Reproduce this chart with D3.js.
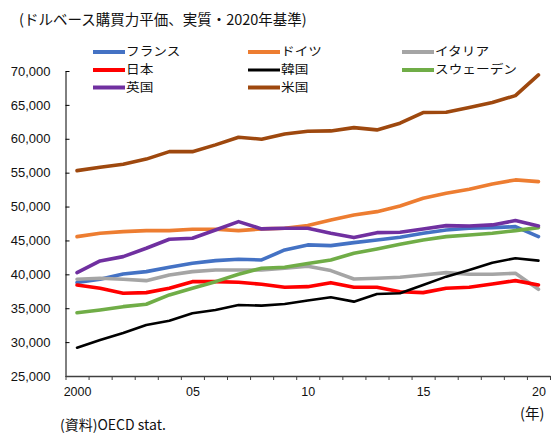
<!DOCTYPE html>
<html>
<head>
<meta charset="utf-8">
<script src="https://cdn.jsdelivr.net/npm/d3@7"></script>
<style>
  html, body { margin: 0; padding: 0; background: #fff; }
  svg { display: block; }
  text { font-family: "Liberation Sans", Arial, sans-serif; fill: #111; }
  .jp { font-family: "Noto Sans CJK JP", sans-serif; }
</style>
</head>
<body>
<svg id="chart" width="554" height="433"></svg>
<script>
// Real GDP per capita, PPP (US dollars, constant 2020 prices)
const years = d3.range(2000, 2021);

const france  = [38800, 39270, 40060, 40400, 41040, 41630, 42020, 42230, 42120, 43600, 44340, 44240, 44680, 45070, 45470, 46060, 46550, 46800, 46890, 47040, 45560];
const germany = [45560, 46060, 46300, 46450, 46450, 46650, 46650, 46450, 46700, 46800, 47200, 48030, 48760, 49250, 50090, 51230, 51960, 52560, 53340, 53930, 53680];
const italy   = [39270, 39420, 39270, 39070, 39910, 40400, 40650, 40650, 40650, 40900, 41200, 40550, 39320, 39420, 39570, 39910, 40250, 40010, 40010, 40160, 37800];
const japan   = [38430, 37940, 37210, 37300, 37940, 38920, 38920, 38830, 38530, 38090, 38180, 38770, 38090, 38090, 37440, 37300, 37940, 38090, 38580, 39070, 38430];
const korea   = [29180, 30300, 31350, 32530, 33160, 34250, 34740, 35480, 35380, 35630, 36150, 36610, 35970, 37100, 37200, 38430, 39660, 40650, 41720, 42370, 42020];
const sweden  = [34340, 34750, 35230, 35580, 36960, 37940, 38920, 40010, 40900, 41040, 41600, 42120, 43110, 43750, 44440, 45070, 45560, 45810, 46060, 46450, 46890];
const uk      = [40250, 41970, 42610, 43850, 45180, 45320, 46550, 47780, 46700, 46800, 46800, 46060, 45420, 46150, 46210, 46700, 47190, 47140, 47290, 47930, 47140];
const us      = [55300, 55800, 56250, 57000, 58100, 58100, 59100, 60230, 59940, 60700, 61100, 61160, 61650, 61310, 62300, 63870, 63920, 64600, 65340, 66370, 69430];

const yTicks = [25000, 30000, 35000, 40000, 45000, 50000, 55000, 60000, 65000, 70000];
const xLabelYears = [2000, 2005, 2010, 2015, 2020];
const xLabels = ["2000", "05", "10", "15", "20"];

const series = [
  { name: "フランス",     values: france,  color: "#4472C4", width: 3.6 },
  { name: "ドイツ",       values: germany, color: "#ED7D31", width: 3.6 },
  { name: "イタリア",     values: italy,   color: "#A5A5A5", width: 3.6 },
  { name: "日本",         values: japan,   color: "#FF0000", width: 3.6 },
  { name: "韓国",         values: korea,   color: "#000000", width: 2.6 },
  { name: "スウェーデン", values: sweden,  color: "#70AD47", width: 3.6 },
  { name: "英国",         values: uk,      color: "#7030A0", width: 3.6 },
  { name: "米国",         values: us,      color: "#9E480E", width: 3.6 }
];

const svg = d3.select("#chart");

// Category axis: each year sits in the middle of its slot, ticks on slot edges
const x = d3.scaleLinear().domain([1999.5, 2020.5]).range([65.5, 550]);
const y = d3.scaleLinear().domain([25000, 70000]).range([376, 71]);

// Title
svg.append("text").attr("class", "jp")
  .attr("x", 19).attr("y", 25)
  .style("font-size", "14.5px")
  .text("(ドルベース購買力平価、実質・2020年基準)");

// Y axis
const yAxis = svg.append("g")
  .attr("transform", "translate(65.5,0)")
  .call(d3.axisLeft(y).tickValues(yTicks).tickFormat(d3.format(","))
    .tickSizeInner(-4).tickSizeOuter(0).tickPadding(15));
yAxis.select(".domain").attr("stroke", "#000").attr("stroke-width", 1);
yAxis.selectAll(".tick line").attr("stroke", "#000");
yAxis.selectAll(".tick text").style("font-size", "13px").attr("fill", "#111");

// X axis: tick marks
const edges = d3.range(1999.5, 2021, 1);
const xAxis = svg.append("g")
  .attr("transform", "translate(0,376)")
  .call(d3.axisBottom(x).tickValues(edges).tickFormat("")
    .tickSizeInner(4).tickSizeOuter(0));
xAxis.select(".domain").attr("stroke", "#404040").attr("stroke-width", 1.3);
xAxis.selectAll(".tick line").attr("stroke", "#404040");

// X axis: labels
const xLab = svg.append("g")
  .attr("transform", "translate(0,376)")
  .call(d3.axisBottom(x).tickValues(xLabelYears)
    .tickFormat((d, i) => xLabels[i]).tickSize(0).tickPadding(11));
xLab.select(".domain").remove();
xLab.selectAll(".tick text").style("font-size", "12.5px").attr("fill", "#111");

// Lines
const line = d3.line()
  .x((d, i) => x(years[i]))
  .y(d => y(d));

svg.append("g").selectAll("path")
  .data(series)
  .join("path")
  .attr("d", s => line(s.values))
  .attr("fill", "none")
  .attr("stroke", s => s.color)
  .attr("stroke-width", s => s.width)
  .attr("stroke-linejoin", "round")
  .attr("stroke-linecap", "round");

// Legend: three columns, filled row by row
const colX = [93, 248, 402];
const rowY = [52, 70, 87.5];
const legend = svg.append("g").selectAll("g")
  .data(series)
  .join("g")
  .attr("transform", (d, i) => `translate(${colX[i % 3]},${rowY[Math.floor(i / 3)]})`);
legend.append("line")
  .attr("x1", 0).attr("x2", 32)
  .attr("stroke", d => d.color)
  .attr("stroke-width", d => d.width === 2.6 ? 3 : 4);
legend.append("text").attr("class", "jp")
  .attr("transform", "translate(33,0) scale(1.14,1)")
  .attr("dy", "0.35em")
  .style("font-size", "12px")
  .text(d => d.name);

// Unit and source notes
svg.append("text").attr("class", "jp")
  .attr("x", 520).attr("y", 419)
  .style("font-size", "14.5px")
  .text("(年)");
svg.append("text").attr("class", "jp")
  .attr("x", 60).attr("y", 430)
  .style("font-size", "14px")
  .text("(資料)OECD stat.");
</script>
</body>
</html>
